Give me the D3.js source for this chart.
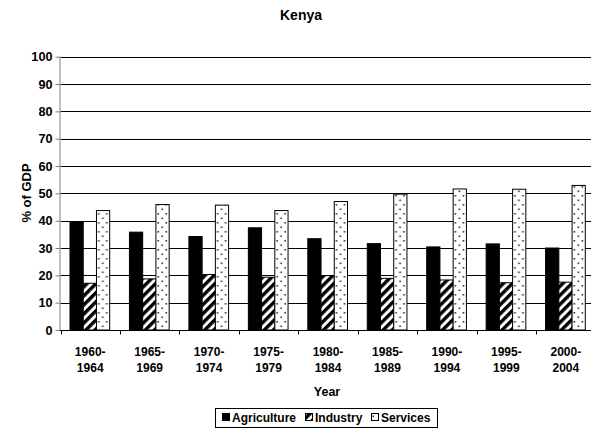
<!DOCTYPE html>
<html>
<head>
<meta charset="utf-8">
<script src="https://cdn.jsdelivr.net/npm/d3@7"></script>
<style>
  html, body { margin: 0; padding: 0; background: #fff; }
  svg { display: block; font-family: Arial, "Liberation Sans", sans-serif; font-weight: bold; }
</style>
</head>
<body>
<svg id="chart" width="591" height="429"></svg>
<script>
// Sector shares of GDP for Kenya, five-year averages
const periods = [["1960-", "1964"], ["1965-", "1969"], ["1970-", "1974"], ["1975-", "1979"],
                 ["1980-", "1984"], ["1985-", "1989"], ["1990-", "1994"], ["1995-", "1999"], ["2000-", "2004"]];
const seriesNames = ["Agriculture", "Industry", "Services"];
const agriculture = [39.7, 35.8, 34.2, 37.4, 33.4, 31.6, 30.4, 31.5, 30.0];
const industry    = [17.1, 18.7, 20.3, 19.3, 19.9, 18.9, 18.3, 17.3, 17.5];
const services    = [43.7, 45.9, 45.7, 43.7, 47.0, 49.7, 51.6, 51.5, 52.9];
const yTicks = [0, 10, 20, 30, 40, 50, 60, 70, 80, 90, 100];

const seriesValues = [agriculture, industry, services];
const keys = periods.map(p => p.join(""));

const svg = d3.select("#chart");
const W = 591;
const plotLeft = 60.5, plotTop = 56.7, plotBottom = 330;

// fill patterns
const defs = svg.append("defs");
const stripe = defs.append("pattern")
  .attr("id", "pat-industry").attr("patternUnits", "userSpaceOnUse")
  .attr("width", 6.4).attr("height", 6.4)
  .attr("patternTransform", "rotate(45)");
stripe.append("rect").attr("width", 6.4).attr("height", 6.4).attr("fill", "#fff");
stripe.append("rect").attr("width", 3.4).attr("height", 6.4).attr("fill", "#000");

const dots = defs.append("pattern")
  .attr("id", "pat-services").attr("patternUnits", "userSpaceOnUse")
  .attr("width", 8).attr("height", 9);
dots.append("rect").attr("width", 8).attr("height", 9).attr("fill", "#fff");
dots.append("rect").attr("x", 1.5).attr("y", 1.5).attr("width", 1.6).attr("height", 1.6).attr("fill", "#333");
dots.append("rect").attr("x", 5.5).attr("y", 6).attr("width", 1.6).attr("height", 1.6).attr("fill", "#333");

const fills = ["#000", "url(#pat-industry)", "url(#pat-services)"];

const x = d3.scaleBand().domain(keys).range([plotLeft, plotLeft + 9 * 59.45]).paddingInner(0).paddingOuter(0);
const xs = d3.scaleBand().domain(seriesNames).range([9.5, 49.2]).padding(0);
const y = d3.scaleLinear().domain([0, 100]).range([plotBottom, plotTop]);

// gridlines
svg.append("g").selectAll("line").data(yTicks.filter(d => d > 0)).join("line")
  .attr("x1", plotLeft).attr("x2", W)
  .attr("y1", d => Math.round(y(d)) + 0.5).attr("y2", d => Math.round(y(d)) + 0.5)
  .attr("stroke", "#000").attr("stroke-width", 1);

// bars
const groups = svg.append("g").selectAll("g").data(keys).join("g")
  .attr("transform", d => `translate(${x(d)},0)`);
groups.selectAll("rect").data((k, i) => seriesNames.map((s, j) => ({ s, j, v: seriesValues[j][i] })))
  .join("rect")
  .attr("x", d => xs(d.s))
  .attr("y", d => y(d.v))
  .attr("width", xs.bandwidth())
  .attr("height", d => plotBottom - y(d.v))
  .attr("fill", d => fills[d.j])
  .attr("stroke", "#000").attr("stroke-width", 1);

// y axis
const yAxis = svg.append("g").attr("transform", `translate(${plotLeft},0)`)
  .call(d3.axisLeft(y).tickValues(yTicks).tickSize(5).tickPadding(3).tickFormat(d3.format("d")));
yAxis.select(".domain").attr("stroke", "#808080").attr("d", `M-0.5,${plotTop}V${plotBottom}`);
yAxis.selectAll(".tick line").attr("stroke", "#808080");
yAxis.selectAll(".tick text").attr("font-size", 12.7).attr("font-weight", "bold")
  .attr("fill", "#000").attr("font-family", "Arial, 'Liberation Sans', sans-serif");

// x axis
const xAxisG = svg.append("g").attr("transform", `translate(0,${plotBottom + 0.5})`);
xAxisG.append("line").attr("x1", plotLeft - 0.5).attr("x2", W).attr("stroke", "#000");
const boundaries = keys.map(k => x(k));
xAxisG.selectAll("line.tk").data(boundaries).join("line").attr("class", "tk")
  .attr("x1", d => Math.round(d) + 0.5).attr("x2", d => Math.round(d) + 0.5)
  .attr("y1", 0).attr("y2", 4).attr("stroke", "#000");

// category labels
const lbl = svg.append("g").selectAll("text").data(periods).join("text")
  .attr("x", (p, i) => x(keys[i]) + x.bandwidth() / 2)
  .attr("text-anchor", "middle").attr("font-size", 12);
lbl.append("tspan").attr("x", (p, i) => x(keys[i]) + x.bandwidth() / 2).attr("y", 356).text(p => p[0]);
lbl.append("tspan").attr("x", (p, i) => x(keys[i]) + x.bandwidth() / 2).attr("y", 372).text(p => p[1]);

// titles
svg.append("text").attr("x", 301).attr("y", 20).attr("text-anchor", "middle")
  .attr("font-size", 14).text("Kenya");
svg.append("text").attr("x", 327).attr("y", 396).attr("text-anchor", "middle")
  .attr("font-size", 12.5).text("Year");
svg.append("text").attr("transform", "translate(30.5,193) rotate(-90)")
  .attr("text-anchor", "middle").attr("font-size", 13).text("% of GDP");

// legend
const legend = svg.append("g");
legend.append("rect").attr("x", 215.5).attr("y", 408.5).attr("width", 222).attr("height", 19)
  .attr("fill", "#fff").attr("stroke", "#000");
const legendX = [222, 305, 371];
const items = legend.selectAll("g.item").data(seriesNames).join("g").attr("class", "item")
  .attr("transform", (d, i) => `translate(${legendX[i]},0)`);
items.append("rect").attr("x", 0.5).attr("y", 413.5).attr("width", 7).attr("height", 7)
  .attr("fill", (d, i) => fills[i]).attr("stroke", "#000");
items.append("text").attr("x", 10).attr("y", 422).attr("font-size", 12).text(d => d);
</script>
</body>
</html>
